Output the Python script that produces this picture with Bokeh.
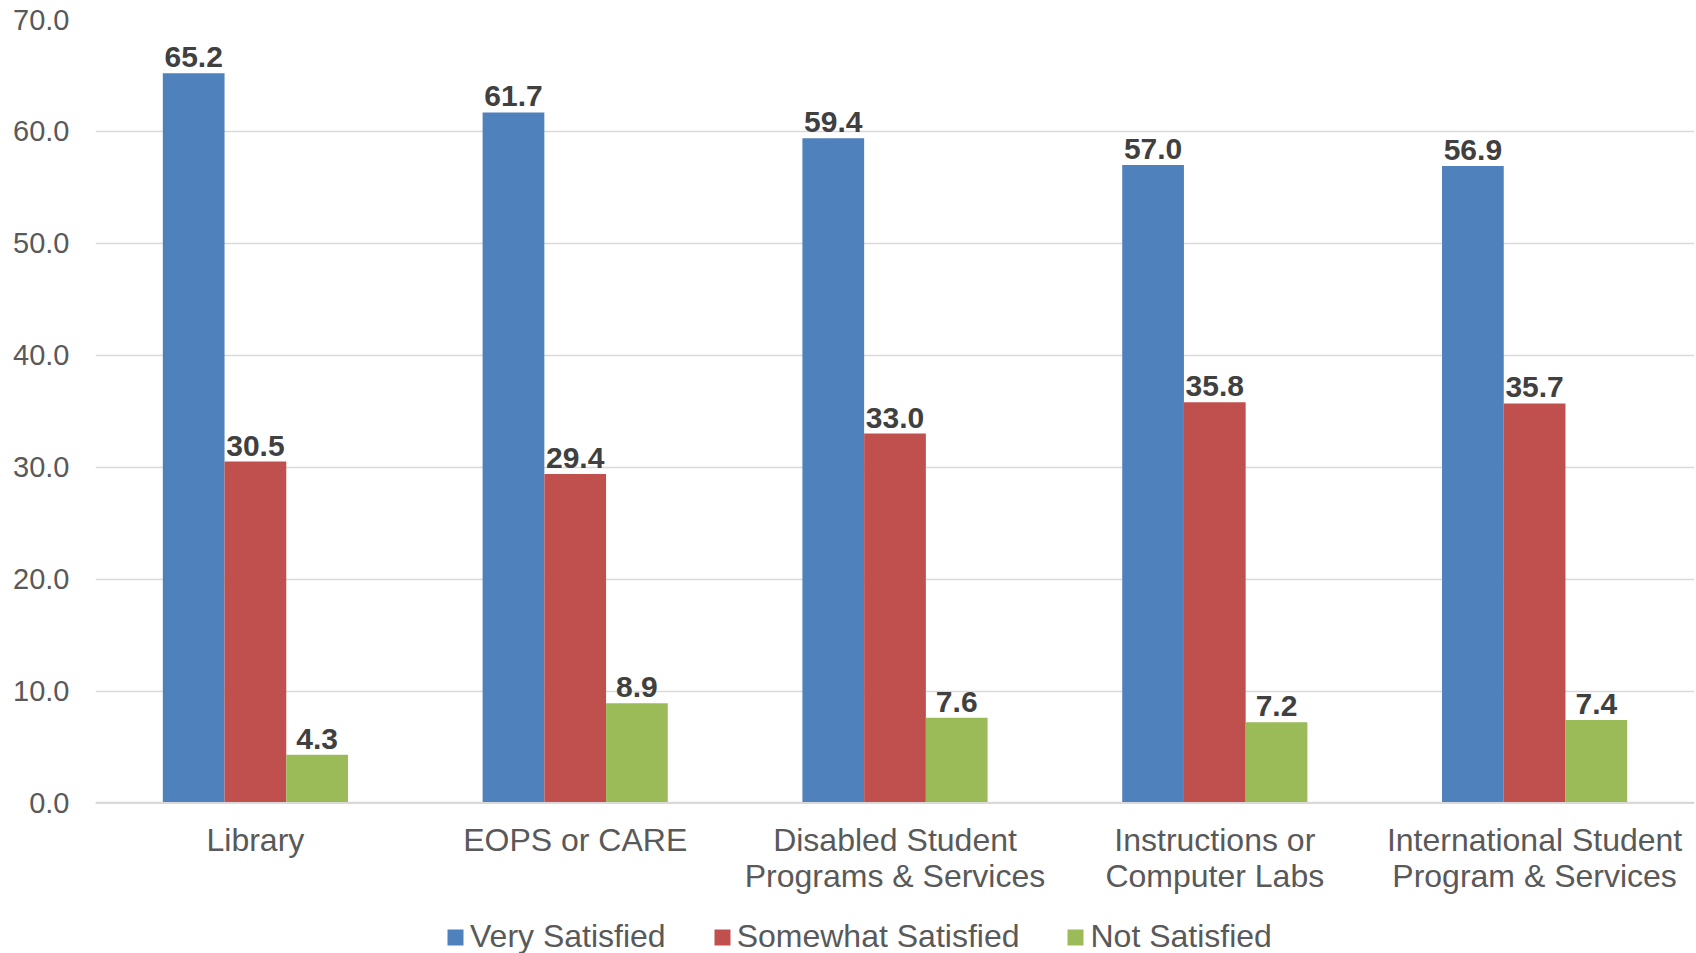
from bokeh.plotting import figure
from bokeh.models import (ColumnDataSource, Range1d, FixedTicker, NumeralTickFormatter,
                          Legend, LegendItem, Span)
from bokeh.transform import dodge
from bokeh.core.properties import value
from bokeh.embed import file_html
from bokeh.resources import INLINE

categories = ["Library", "EOPS or CARE", "Disabled Student\nPrograms & Services",
              "Instructions or\nComputer Labs", "International Student\nProgram & Services"]
series_names = ["Very Satisfied", "Somewhat Satisfied", "Not Satisfied"]
very_satisfied = [65.2, 61.7, 59.4, 57.0, 56.9]
somewhat_satisfied = [30.5, 29.4, 33.0, 35.8, 35.7]
not_satisfied = [4.3, 8.9, 7.6, 7.2, 7.4]
y_ticks = [0, 10, 20, 30, 40, 50, 60, 70]

colors = ["#4F81BD", "#C0504D", "#9BBB59"]
FONT = "Liberation Sans"

pos = list(range(len(categories)))
src = ColumnDataSource(dict(
    x=pos,
    v=very_satisfied, s=somewhat_satisfied, n=not_satisfied,
    vl=["%.1f" % a for a in very_satisfied],
    sl=["%.1f" % a for a in somewhat_satisfied],
    nl=["%.1f" % a for a in not_satisfied],
))
cat_src = ColumnDataSource(dict(x=pos, y=[0] * len(pos), t=categories))

W = 1696
H = 953
# frame spans from y=19.5px to the bottom of the canvas; value 0 sits at 802.5px
px_per_unit = (802.5 - 19.5) / 70.0
y_bottom = -(H - 802.5) / px_per_unit

p = figure(width=W, height=H, output_backend="svg", toolbar_location=None,
           x_range=Range1d(-0.5, 4.5), y_range=Range1d(y_bottom, 70),
           x_axis_location=None,
           min_border_left=95, min_border_right=2, min_border_top=19, min_border_bottom=0)
p.outline_line_color = None
p.background_fill_color = "white"

bw = 0.193
offs = [-bw, 0.0, bw]
cols = ["v", "s", "n"]
labs = ["vl", "sl", "nl"]
renderers = []
for off, c, l, col in zip(offs, cols, labs, colors):
    r = p.vbar(x=dodge("x", off, range=p.x_range), top=c, width=bw, source=src,
               fill_color=col, line_color=None)
    renderers.append(r)
    p.text(x=dodge("x", off, range=p.x_range), y=c, text=l, source=src,
           text_align="center", text_baseline="alphabetic", y_offset=-16,
           text_font=value(FONT), text_font_size="30px", text_font_style="bold",
           text_color="#404040")

# category labels below the baseline
p.text(x="x", y="y", text="t", source=cat_src, text_align="center",
       text_baseline="top", y_offset=19, text_line_height=1.01,
       text_font=value(FONT), text_font_size="32px", text_color="#595959")

# baseline
p.add_layout(Span(location=0, dimension="width", line_color="#D9D9D9", line_width=2))

# y axis
p.yaxis.ticker = FixedTicker(ticks=y_ticks)
p.yaxis.formatter = NumeralTickFormatter(format="0.0")
p.yaxis.axis_line_color = None
p.yaxis.major_tick_line_color = None
p.yaxis.minor_tick_line_color = None
p.yaxis.major_label_standoff = 20
p.yaxis.major_label_text_font = FONT
p.yaxis.major_label_text_font_size = "29px"
p.yaxis.major_label_text_color = "#595959"

p.xgrid.grid_line_color = None
p.ygrid.grid_line_color = "#D9D9D9"
p.ygrid.grid_line_width = 1.5
p.ygrid.ticker = FixedTicker(ticks=y_ticks)

legend = Legend(items=[LegendItem(label=n, renderers=[r]) for n, r in zip(series_names, renderers)],
                orientation="horizontal", location=(350, -2),
                padding=0, margin=0, spacing=46, label_standoff=5,
                glyph_width=20, glyph_height=20, label_height=32,
                label_text_font=FONT, label_text_font_size="32px",
                label_text_color="#595959", border_line_color=None,
                background_fill_alpha=0)
p.add_layout(legend, "center")

open("out.html", "w").write(file_html(p, INLINE))
